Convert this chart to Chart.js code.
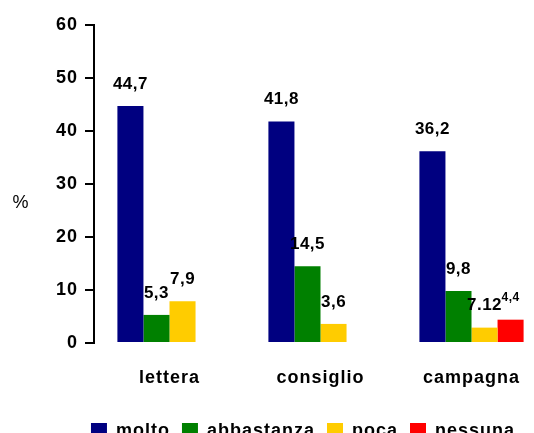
<!DOCTYPE html>
<html>
<head>
<meta charset="utf-8">
<script src="https://cdn.jsdelivr.net/npm/chart.js@4"></script>
<style>
  html, body { margin: 0; padding: 0; background: #fff; }
  #wrap { width: 534px; height: 433px; overflow: hidden; }
</style>
</head>
<body>
<div id="wrap"><canvas id="chart" width="550" height="450"></canvas></div>
<script>
// Data
const categories = ['lettera', 'consiglio', 'campagna'];
const molto = [44.7, 41.8, 36.2];
const abbastanza = [5.3, 14.5, 9.8];
const poca = [7.9, 3.6, 2.9];
const nessuna = [0, 0, 4.4];

// Value labels as printed on the chart
const moltoLabels = ['44,7', '41,8', '36,2'];
const abbastanzaLabels = ['5,3', '14,5', '9,8'];
const pocaLabels = ['7,9', '3,6', '7.12'];
const nessunaLabels = ['', '', '4,4'];

const yTicks = [0, 10, 20, 30, 40, 50, 60];

const FONT = '"Liberation Sans", Arial, sans-serif';

// The original text is a bit spread out, so widen letters a little
const spacing = {
    id: 'spacing',
    beforeDraw(chart) {
        chart.ctx.letterSpacing = '1px';
    }
};

// Draws the printed value above each bar
const valueLabels = {
    id: 'valueLabels',
    afterDatasetsDraw(chart) {
        const ctx = chart.ctx;
        ctx.save();
        ctx.fillStyle = '#000';
        ctx.textAlign = 'center';
        ctx.textBaseline = 'middle';
        ctx.letterSpacing = '0.5px';
        chart.data.datasets.forEach((ds, i) => {
            const meta = chart.getDatasetMeta(i);
            meta.data.forEach((bar, j) => {
                const txt = ds.valueLabels[j];
                if (!txt) return;
                ctx.font = (ds.label === 'nessuna' ? 'bold 12px ' : 'bold 17px ') + FONT;
                ctx.fillText(txt, bar.x, bar.y - 22);
            });
        });
        ctx.restore();
    }
};

// "%" axis title, written horizontally
const percentTitle = {
    id: 'percentTitle',
    afterDraw(chart) {
        const ctx = chart.ctx;
        const y = chart.scales.y;
        ctx.save();
        ctx.fillStyle = '#000';
        ctx.font = '18px ' + FONT;
        ctx.textAlign = 'center';
        ctx.textBaseline = 'middle';
        ctx.fillText('%', 21, y.getPixelForValue(26.5));
        ctx.restore();
    }
};

new Chart(document.getElementById('chart'), {
    type: 'bar',
    data: {
        labels: categories,
        datasets: [
            { label: 'molto', data: molto, valueLabels: moltoLabels, backgroundColor: '#000080' },
            { label: 'abbastanza', data: abbastanza, valueLabels: abbastanzaLabels, backgroundColor: '#008000' },
            { label: 'poca', data: poca, valueLabels: pocaLabels, backgroundColor: '#FFCC00' },
            { label: 'nessuna', data: nessuna, valueLabels: nessunaLabels, backgroundColor: '#FF0000' }
        ]
    },
    options: {
        responsive: false,
        animation: false,
        devicePixelRatio: 1,
        layout: { padding: { left: 33, right: 3, top: 25, bottom: 0 } },
        datasets: {
            bar: { categoryPercentage: 0.69, barPercentage: 1.0, borderWidth: 0 }
        },
        scales: {
            x: {
                grid: { display: false, drawTicks: false },
                border: { display: false },
                ticks: {
                    color: '#000',
                    padding: 24,
                    font: { family: FONT, size: 18, weight: 'bold' }
                },
                afterFit(scale) { scale.height = 67; }
            },
            y: {
                min: 0,
                max: 60,
                afterBuildTicks(scale) { scale.ticks = yTicks.map(v => ({ value: v })); },
                grid: { drawOnChartArea: false, drawTicks: true, tickLength: 9, color: '#000', lineWidth: 2 },
                border: { color: '#000', width: 2 },
                ticks: {
                    color: '#000',
                    padding: 7,
                    font: { family: FONT, size: 18, weight: 'bold' }
                },
                afterFit(scale) { scale.width = 61; }
            }
        },
        plugins: {
            legend: {
                position: 'bottom',
                labels: {
                    color: '#000',
                    boxWidth: 16,
                    boxHeight: 16,
                    padding: 12,
                    font: { family: FONT, size: 18, weight: 'bold' }
                }
            },
            tooltip: { enabled: false }
        }
    },
    plugins: [spacing, valueLabels, percentTitle]
});
</script>
</body>
</html>
